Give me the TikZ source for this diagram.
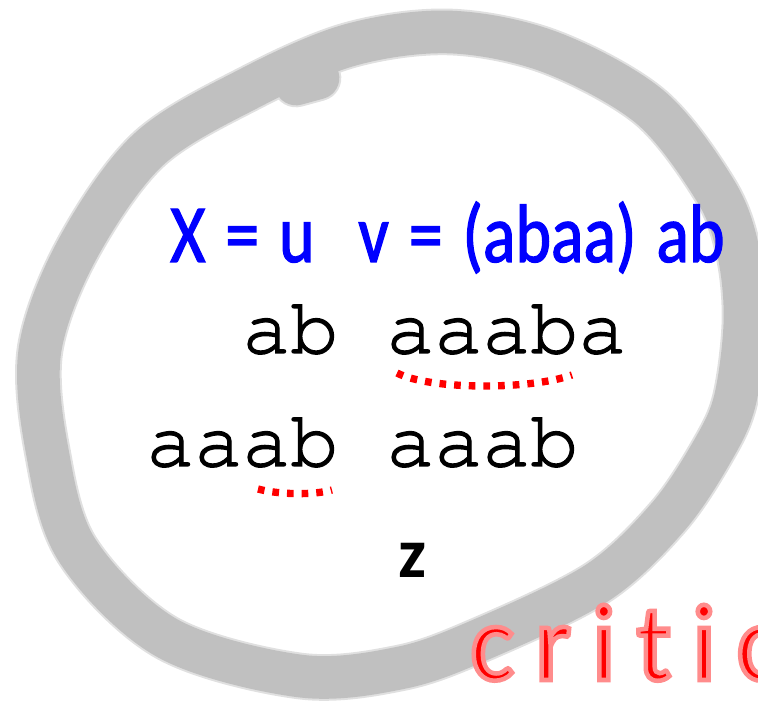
\documentclass[tikz,border=0pt]{standalone}
\usepackage{fontspec}
\setmonofont{TeX Gyre Cursor}[FakeBold=1.6]
\newfontfamily\handfont{Carlito}
\newfontfamily\headfont{Carlito}[FakeStretch=0.82,FakeBold=1.5,WordSpace=1.3]
\newfontfamily\critfont{Carlito}[LetterSpace=19,Ligatures=NoCommon,FakeStretch=0.95]
\definecolor{LoopGray}{HTML}{C0C0C0}
\definecolor{LoopEdge}{HTML}{E0E0E0}
\definecolor{InkBlue}{HTML}{0000FF}
\definecolor{InkRed}{HTML}{FF0000}
% pink rim round the red hand writing
\newcommand{\rimtext}[1]{\special{pdf:literal 2 Tr 3.4 w 1 0.55 0.55 RG}#1\special{pdf:literal 0 Tr}}

\begin{document}
\begin{tikzpicture}[x=0.75pt,y=-0.75pt,
  every node/.style={inner sep=0pt,anchor=base west},
  band/.style={draw=LoopGray,line width=32pt,line cap=round,line join=round,
    preaction={draw=LoopEdge,line width=35pt,line cap=round,line join=round}},
  header/.style={text=InkBlue,font=\headfont\fontsize{62}{62}\selectfont},
  strings/.style={text=black,font=\ttfamily\fontsize{60}{60}\selectfont},
  zlabel/.style={text=black,font=\handfont\bfseries\fontsize{53}{53}\selectfont},
  critic/.style={text=InkRed,font=\critfont\fontsize{82}{82}\selectfont},
  underline/.style={draw=InkRed,line width=5.5pt,dash pattern=on 5pt off 6pt}
]
  \useasboundingbox (0,0) rectangle (758,702);
  \clip (0,0) rectangle (758,702);

  % hand drawn loop
  \draw[band] plot[smooth cycle,tension=0.55] coordinates {
    (450,32) (550,52) (650,107) (715,190) (738,250) (745,320) (735,400)
    (713,450) (668,517) (597,583) (480,640) (400,668) (300,676) (167,638)
    (77,550) (47,450) (40,350) (77,250) (148,150) (250,88) (350,45)}
    (296,84) -- (318,78);

  % words
  \node[header] (xu) at (170,262) {X = u};
  \node[header] (v) at (358,262) {v = (abaa) ab};
  \node[strings] (row1) at (242,353) {ab aaaba};
  \node[strings] (row2) at (146,466) {aaab aaab};
  \node[zlabel] (z) at (398,578) {z};
  \node[critic] (crit) at (470,680) {\rimtext{critic}};

  % underlines
  \draw[underline] (397,373) .. controls (430,390) and (530,390) .. (572,375);
  \draw[underline] (258,489) .. controls (280,495) and (315,495) .. (332,490);
\end{tikzpicture}
\end{document}
